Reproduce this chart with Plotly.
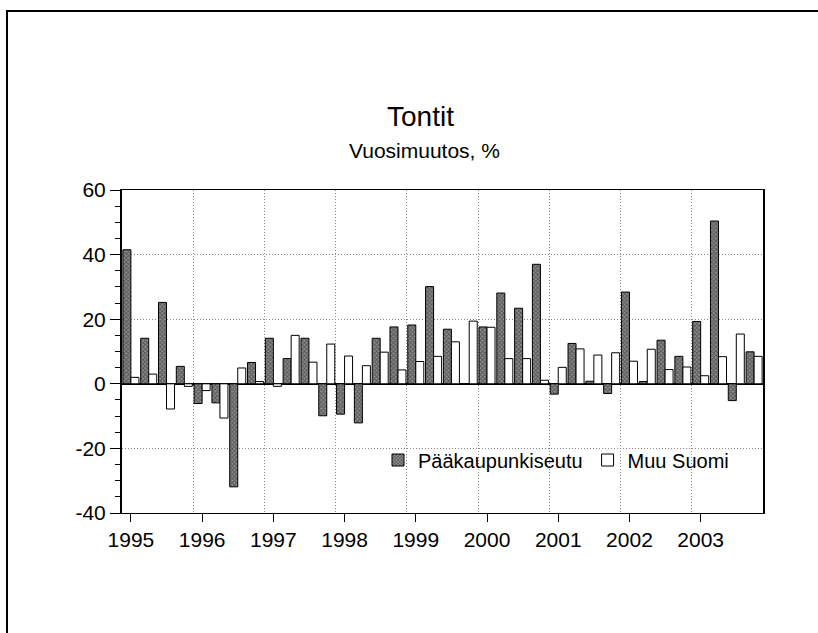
import plotly.graph_objects as go

# --- Dados: vuosimuutos % per quarter, 1995Q1 - 2003Q4 ---
vuodet = [str(v) for v in range(1995, 2004)]
neljannekset = [f"{v}Q{q}" for v in range(1995, 2004) for q in range(1, 5)]
y_ticks = [-40, -20, 0, 20, 40, 60]
y_tick_text = ["-40", "-20", "0", "20", "40", "60"]

paakaupunkiseutu = [
    41.5, 14.1, 25.2, 5.4,
    -6.1, -5.9, -31.9, 6.6,
    14.1, 7.8, 14.1, -9.9,
    -9.4, -12.1, 14.1, 17.6,
    18.2, 30.1, 16.9, 0.0,
    17.6, 28.1, 23.4, 37.0,
    -3.2, 12.5, 0.8, -3.0,
    28.4, 0.7, 13.5, 8.5,
    19.3, 50.4, -5.2, 9.9,
]
muu_suomi = [
    2.0, 3.0, -7.8, -0.8,
    -2.1, -10.6, 4.9, 0.7,
    -0.8, 15.0, 6.7, 12.3,
    8.6, 5.6, 9.8, 4.3,
    6.9, 8.5, 13.0, 19.4,
    17.5, 7.8, 7.8, 1.1,
    5.1, 10.8, 8.9, 9.6,
    7.0, 10.7, 4.4, 5.2,
    2.5, 8.4, 15.4, 8.5,
]

x = list(range(len(neljannekset)))
fonte = "Liberation Sans, Arial, sans-serif"

fig = go.Figure()

fig.add_trace(go.Bar(
    x=x, y=paakaupunkiseutu, name="Pääkaupunkiseutu",
    marker=dict(color="#8c8c8c", line=dict(color="black", width=1),
                pattern=dict(shape="x", fgcolor="#1a1a1a", size=3, solidity=0.5)),
))
fig.add_trace(go.Bar(
    x=x, y=muu_suomi, name="Muu Suomi",
    marker=dict(color="white", line=dict(color="black", width=1)),
))

# moldura exterior (so topo e lado esquerdo visiveis)
fig.add_shape(type="rect", xref="paper", yref="paper",
              x0=(7 - 122) / 641, x1=2, y0=-2, y1=(513 - 11) / 323,
              line=dict(color="black", width=2), layer="below")

fig.update_layout(
    width=818, height=633,
    margin=dict(l=122, r=55, t=190, b=120),
    paper_bgcolor="white", plot_bgcolor="white",
    barmode="group", bargap=0.1, bargroupgap=0,
    font=dict(family=fonte, color="black", size=21),
    showlegend=True,
    legend=dict(orientation="h", x=(378 - 122) / 641, y=(513 - 460) / 323,
                xanchor="left", yanchor="middle",
                font=dict(size=20), bgcolor="rgba(0,0,0,0)",
                itemwidth=30, tracegroupgap=0),
    annotations=[
        dict(text="Tontit", x=(420 - 122) / 641, y=(513 - 116) / 323,
             xref="paper", yref="paper", showarrow=False,
             xanchor="center", yanchor="middle",
             font=dict(size=28, family=fonte)),
        dict(text="Vuosimuutos, %", x=(424 - 122) / 641, y=(513 - 151) / 323,
             xref="paper", yref="paper", showarrow=False,
             xanchor="center", yanchor="middle",
             font=dict(size=21, family=fonte)),
    ],
)

fig.update_xaxes(
    range=[-0.5, len(x) - 0.5],
    tickmode="array", tickvals=x[::4], ticktext=vuodet,
    ticks="outside", ticklen=8, tickcolor="black",
    showgrid=False, showline=True, linecolor="black", linewidth=1, mirror=True,
    minor=dict(tick0=-0.5, dtick=4, showgrid=True, gridcolor="#8a8a8a",
               griddash="1px,2px", gridwidth=1, ticks=""),
    tickfont=dict(size=21),
)
fig.update_yaxes(
    range=[-40, 60], tickmode="array", tickvals=y_ticks, ticktext=y_tick_text,
    ticks="outside", ticklen=10, tickcolor="black",
    showgrid=True, gridcolor="#8a8a8a", griddash="1px,2px", gridwidth=1,
    zeroline=True, zerolinecolor="black", zerolinewidth=1.5,
    showline=True, linecolor="black", linewidth=2, mirror=True,
    minor=dict(tickmode="linear", tick0=0, dtick=5, ticks="outside", ticklen=5,
               tickcolor="black", showgrid=False),
    tickfont=dict(size=21),
)

fig.write_html("out.html", config={"displayModeBar": False},
               post_script="document.body.style.margin='0';")
